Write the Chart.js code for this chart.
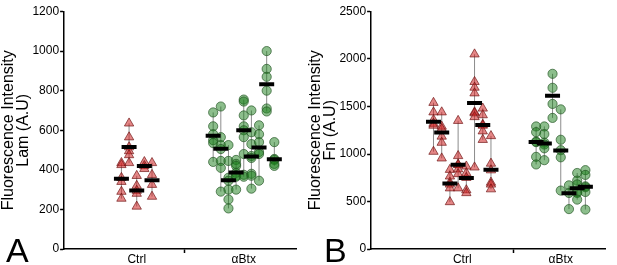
<!DOCTYPE html>
<html lang="en">
<head>
<meta charset="UTF-8" />
<title>Fluorescence intensity - Lam / Fn</title>
<script src="https://cdn.jsdelivr.net/npm/chart.js"></script>
<style>
  body { margin:0; background:#fff; width:617px; height:265px; position:relative; overflow:hidden;
         font-family:'Liberation Sans', Arial, sans-serif; }
  .panel { position:absolute; top:0; }
  .letter { position:absolute; font-size:34px; line-height:34px; color:#000; }
</style>
</head>
<body>
<div class="panel" style="left:0"><canvas id="chartA" width="308" height="265"></canvas></div>
<div class="panel" style="left:307px"><canvas id="chartB" width="310" height="265"></canvas></div>
<div class="letter" style="left:6px; top:233px">A</div>
<div class="letter" style="left:324px; top:233px">B</div>

<script>
const groups = ['Ctrl', 'αBtx'];

// Panel A - laminin, one array per animal/column
const lamCtrl = [
  [435, 425, 360, 340, 290, 255],
  [635, 565, 515, 495, 475, 435],
  [370, 320, 295, 280, 215],
  [440, 420, 405],
  [435, 375, 325, 265]
];
const lamCtrlMed = [355, 515, 295, 420, 347];
const lamBtx = [
  [690, 620, 580, 550, 535, 440],
  [720, 565, 525, 505, 445, 410, 290],
  [525, 445, 360, 345, 300, 250, 205],
  [450, 430, 420, 385, 370, 365, 300],
  [755, 745, 675, 620, 600, 565, 480, 375, 365],
  [700, 590, 530, 470, 460, 380, 370, 305],
  [625, 580, 540, 490, 480, 345],
  [1000, 910, 870, 800, 710, 695],
  [540, 455, 450, 430, 420]
];
const lamBtxMed = [572, 507, 347, 387, 600, 468, 513, 832, 453];

// Panel B - fibronectin
const fnCtrl = [
  [1540, 1440, 1360, 1320, 1300, 1025],
  [1440, 1290, 1265, 1185, 1120, 955],
  [835, 765, 700, 680, 640, 495],
  [1350, 980, 890, 885, 840, 790, 640],
  [870, 800, 750, 620, 590],
  [2050, 1760, 1700, 1640, 1440, 1430, 1390, 860],
  [1480, 1410, 1310, 1300, 1240, 1150],
  [1190, 900, 830, 700, 680, 630]
];
const fnCtrlMed = [1339, 1226, 690, 888, 748, 1537, 1305, 833];
const fnBtx = [
  [1290, 1230, 1130, 1125, 970, 890],
  [1290, 1210, 1120, 1100, 1060, 935],
  [1844, 1697, 1527, 1380],
  [1470, 1150, 1040, 965, 615],
  [670, 590, 420],
  [800, 720, 680, 600, 590, 520],
  [830, 780, 660, 650, 600, 415]
];
const fnBtxMed = [1127, 1110, 1612, 1038, 588, 639, 656];

const FONT = "'Liberation Sans', Arial, sans-serif";

function columnX(center, n, i) {
  return center + (i - (n - 1) / 2);
}

function buildSets(cols, meds, center) {
  const pts = [], med = [], rng = [];
  cols.forEach((col, i) => {
    const x = columnX(center, cols.length, i);
    col.forEach(v => pts.push({ x: x, y: v }));
    med.push({ x: x, y: meds[i] });
    rng.push({ x: x, y: Math.min(...col) }, { x: x, y: Math.max(...col) }, { x: x, y: null });
  });
  return { pts, med, rng };
}

function makePanel(id, cfg) {
  const c = buildSets(cfg.ctrl, cfg.ctrlMed, cfg.centers[0]);
  const b = buildSets(cfg.btx, cfg.btxMed, cfg.centers[1]);

  new Chart(document.getElementById(id), {
    type: 'scatter',
    data: {
      datasets: [
        { data: c.rng.concat(b.rng), showLine: true, spanGaps: false, borderColor: '#8c8c8c',
          borderWidth: 1, pointRadius: 0, order: 3 },
        { data: c.pts, pointStyle: 'triangle', pointRadius: 5.4,
          backgroundColor: 'rgba(205,35,35,0.55)', borderColor: 'rgba(110,20,20,0.85)',
          borderWidth: 0.8, order: 2 },
        { data: b.pts, pointStyle: 'circle', pointRadius: 4.6,
          backgroundColor: 'rgba(25,125,25,0.5)', borderColor: 'rgba(35,85,35,0.85)',
          borderWidth: 0.8, order: 2 },
        { data: c.med.concat(b.med), pointStyle: 'line', pointRadius: 7.5,
          borderColor: '#000', borderWidth: 4, order: 1 }
      ]
    },
    options: {
      responsive: false,
      animation: false,
      devicePixelRatio: 1,
      layout: { padding: cfg.padding },
      plugins: { legend: { display: false }, tooltip: { enabled: false } },
      scales: {
        x: {
          type: 'linear', min: 0, max: cfg.xMax,
          afterBuildTicks: s => {
            s.ticks = [{ value: cfg.centers[0] }, { value: cfg.divider }, { value: cfg.centers[1] }];
          },
          ticks: {
            autoSkip: false, maxRotation: 0, padding: 1, color: '#000',
            font: { family: FONT, size: 12, lineHeight: 1.0 },
            callback: v => v === cfg.centers[0] ? groups[0] : (v === cfg.centers[1] ? groups[1] : '')
          },
          grid: {
            drawOnChartArea: false, tickLength: 4, tickWidth: 1.5,
            tickColor: ctx => (ctx.tick && ctx.tick.value === cfg.divider) ? '#000' : 'rgba(0,0,0,0)'
          },
          border: { color: '#000', width: 1.5 }
        },
        y: {
          min: 0, max: cfg.yMax,
          ticks: {
            stepSize: cfg.yStep, padding: 1, color: '#000',
            font: { family: FONT, size: 12, lineHeight: 0.6 },
            callback: v => String(v)
          },
          grid: { drawOnChartArea: false, tickLength: 4, tickWidth: 1.5, tickColor: '#000' },
          border: { color: '#000', width: 1.5 },
          title: {
            display: true, text: cfg.title, color: '#000', padding: 0,
            font: { family: FONT, size: 16, lineHeight: 0.95 }
          }
        }
      }
    }
  });
}

makePanel('chartA', {
  ctrl: lamCtrl, ctrlMed: lamCtrlMed, btx: lamBtx, btxMed: lamBtxMed,
  centers: [9.5, 23.5], divider: 15.75, xMax: 30.4,
  yMax: 1200, yStep: 200,
  title: ['Fluorescence Intensity', 'Lam (A.U)'],
  padding: { top: 0, right: 3, left: 1, bottom: -2 }
});

makePanel('chartB', {
  ctrl: fnCtrl, ctrlMed: fnCtrlMed, btx: fnBtx, btxMed: fnBtxMed,
  centers: [11.1, 23.1], divider: 17.35, xMax: 28.55,
  yMax: 2500, yStep: 500,
  title: ['Fluorescence Intensity', 'Fn (A.U)'],
  padding: { top: 0, right: 5, left: 1, bottom: -2 }
});
</script>
</body>
</html>
